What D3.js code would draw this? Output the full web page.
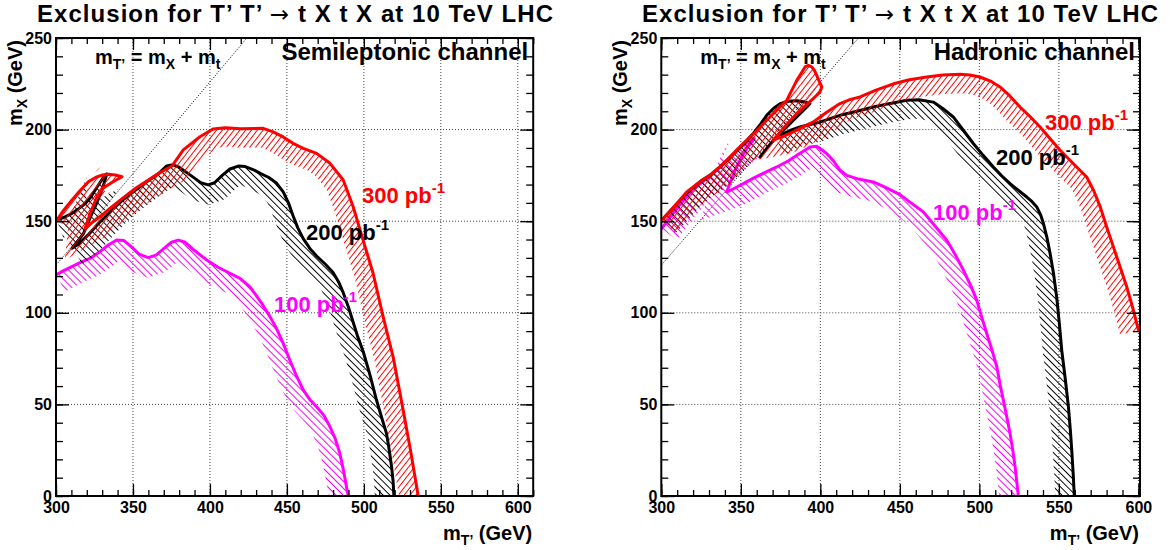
<!DOCTYPE html>
<html><head><meta charset="utf-8">
<script src="https://cdn.jsdelivr.net/npm/d3@7"></script>
<style>
body{margin:0;background:#fff;}
svg{display:block;font-family:"Liberation Sans",Arial,Helvetica,sans-serif;font-weight:bold;}
</style></head><body>
<svg id="chart" width="1171" height="550"></svg>
<script>
// ---- axis ticks and labels ----
const xTicks = [300, 350, 400, 450, 500, 550, 600];
const yTicks = [0, 50, 100, 150, 200, 250];
const titleParts = ["Exclusion for T\u2019 T\u2019 ", "\u2192", " t X t X at 10 TeV LHC"];
const channelNames = ["Semileptonic channel", "Hadronic channel"];
const lumiNames = ["300 pb", "200 pb", "100 pb"];
const topMass = 174; // kinematic limit m_T' = m_X + m_t

// ---- exclusion contours, [m_T', m_X] in GeV ----
// Semileptonic, 300 pb^-1
const semi300 = [[
  [300.5,150.5],[305,156],[310.4,161.6],[316,167],[321.2,171.6],[326,174],[329.9,175.2],[334,175.6],[338.5,175.2],[342.9,174.3],
  [336,171],[330.5,168],[326.5,163],[324,158],[322.3,154.3],[320.5,150],[319,146],
  [323,149],[329,152.8],[336.4,157.9],[344,163],[351.5,167.9],[359,172],[366.7,176.1],[375.3,180.1],[382.7,188.9],[393.5,196.1],
  [402,200.3],[410,201],[420,200.5],[434.6,200.7],[441,198.8],[447.6,196],[454,192.5],[460.6,189.8],[469.3,187],[478,181.6],
  [486.6,172.5],[493,158],[499.5,139.7],[506,121.6],[512.5,97.9],[519,76],[525.5,47],[530.5,24],[535.3,0]
]];
// Semileptonic, 200 pb^-1
const semi200 = [[
  [300.6,150.7],[305,152],[310.4,154.3],[315,157],[319,159.6],[322.5,163],[325.5,167],[328.5,171],[331,174.3],[333,175.8],
  [331.5,171.5],[329.9,167],[327,161],[323.4,154.3],[320.5,148.5],[317.9,143.3],[314,139],[310.4,135.2],
  [314.7,137.5],[321.2,142.8],[328,149],[336.4,156.2],[344,162],[351.5,166.8],[359,171.5],[366.7,176],[371.9,180.2],[376,180.8],
  [380,179.5],[385,176.5],[390,173.5],[394,171],[398.9,169.8],[403,171],[408,175],[413,178.5],[418.4,180.1],[423,179.8],
  [428,178.2],[433,176],[438,174],[443,171],[447.6,166],[451,160],[454,153],[457,146.5],[460.6,140.5],[465,135],[469.3,131],
  [475,126.5],[480,122],[483.5,117],[486.6,111],[490,103],[493,95],[496,87],[499.5,79],[504,66],[508.2,52.4],[511.5,43],
  [514.7,34.2],[516.5,25],[518,16],[519,8],[519.5,0]
]];
// Semileptonic, 100 pb^-1
const semi100 = [[
  [300,120.6],[305,123],[311,125.5],[316,127.5],[322,129.7],[328,133],[334,137],[339.4,139.7],[344,139.5],[349,136],[354,132],
  [359.9,130.1],[365,131.5],[370,135],[375,138.5],[379.4,139.7],[384,138.5],[390,134],[397.9,128.8],[405,125],[412,122],
  [419.5,118.8],[426,114.2],[433,106],[439,97.9],[443.5,91],[447.6,83.3],[452,74],[456,66],[460.6,57.9],[465,52.5],[469.3,48.7],
  [474,44],[478,37.8],[481.5,31],[484.4,23.3],[487,13],[489.8,0]
]];
// Hadronic, 300 pb^-1
const had300 = [[
  [300.2,150.5],[305,155],[311.7,161.6],[316,166],[320.1,168.7],[325,172],[330.6,175.1],[336,179],[341.1,183.2],[347,188.5],
  [353.7,194.2],[360,199.5],[366.3,205.1],[372.5,210.5],[378.9,216],[385.2,226.9],[390.4,234.2],[392.5,235],[394.6,234.2],
  [396.5,232],[397.7,229.6],[399.5,226],[400.9,223.3],[399.7,220.4],[395,216.5],[390,212.5],[385,208.5],[380,204],[375,199],
  [370.4,194.2],[377,196.5],[383,198.8],[389,201.5],[395.6,204.2],[404,209.5],[412.4,214.2],[419,216.5],[425,217.8],[435,221.5],
  [446,225],[456,227.2],[466.9,228.7],[477,229.8],[487.9,230.2],[494,229.8],[500.4,228.7],[507,226.5],[513,223.3],[519,218.5],
  [525.6,212.3],[532,207],[538.2,201.4],[544.5,195],[550.8,188.7],[559,181.5],[567.5,174.1],[572,166.5],[576,157.8],[580,147],
  [584.3,135.9],[588.5,125],[592.7,114.1],[596.5,102.5],[600,90.5]
]];
// Hadronic, 200 pb^-1 (two pieces)
const had200 = [[
  [300.2,150.5],[305,155],[311.7,161.3],[316,165.5],[320.1,168.5],[325,172],[330.6,175],[336,179],[341.1,183],[347,188.2],
  [353.7,194],[358,198],[362,202.5],[366.3,207.8],[370.5,211.5],[374.7,214.2],[380,215.5],[385.2,215.7],[389.5,215.2],
  [393.5,214.2],[389.3,210.5],[384,206],[378.9,201.4],[375,198],[371.5,195.1],[367,190.5],[362,185]
],[
  [371.5,195.1],[374.7,196.9],[381,199.5],[387.2,201.4],[393.5,202.8],[399.8,204.1],[406,206],[412.4,207.8],[423,210],
  [433.3,212.3],[444,214.3],[454.3,216],[462,216.3],[471,215],[477,211.5],[483.6,206.9],[490,199.5],[496.2,192.4],[502.5,185.8],
  [508.8,179.6],[514,174.8],[519.3,170.5],[525,166.5],[529.8,163.2],[533,160.8],[536.1,157.8],[538.5,153.5],[540.3,148.7],
  [542.5,141],[544.5,132.3],[546.7,121],[548.7,108],[550.3,94],[551.8,79.5],[554,64],[556,48.6],[557.2,36],[558.1,24.9],
  [559,12],[559.7,0]
]];
// Hadronic, 100 pb^-1
const had100 = [[
  [300.2,146],[305,151.5],[311.7,159],[320.1,167.5],[330.6,174.5],[341.1,183],[349,189.5],[355.8,194.5],[358.5,195],
  [354,190],[350.5,185],[347.4,179.6],[344,172.5],[341.1,165.9],
  [346,168],[351.6,170.5],[358,173.5],[365,176.5],[372.6,179.6],[380,183],[387,187],[393.5,190.5],[397.7,190.9],[401,189],
  [404,186.9],[408.2,183],[412.4,177.8],[416.6,175],[424,173],[433.3,171.4],[441,168.5],[450.1,164.5],[457,160],[464.8,155],
  [472,147.5],[479.5,139.6],[485,131.5],[490,123.2],[494.5,115],[498.4,106.8],[501.5,97.5],[504.7,88.6],[508,79.5],[511,70.4],
  [513,61],[515.1,52.2],[517.3,43],[519.3,34.1],[521,25],[522.5,15.8],[523.5,8],[524.5,0]
]];

const RED = "#ff0000", BLACK = "#000000", MAGENTA = "#ff00ff";

const panels = [
  { x0: 56,    x1: 533.2, xMax: 610, channel: channelNames[0],
    series: [ {data: semi100, color: MAGENTA, hatch: "hM"}, {data: semi200, color: BLACK, hatch: "hK"}, {data: semi300, color: RED, hatch: "hR"} ],
    labels: [ {text: lumiNames[0], color: RED, x: 362, y: 203}, {text: lumiNames[1], color: BLACK, x: 306, y: 240}, {text: lumiNames[2], color: MAGENTA, x: 274, y: 312} ] },
  { x0: 661.3, x1: 1140,  xMax: 601, channel: channelNames[1],
    series: [ {data: had100, color: MAGENTA, hatch: "hM"}, {data: had200, color: BLACK, hatch: "hK"}, {data: had300, color: RED, hatch: "hR"} ],
    labels: [ {text: lumiNames[0], color: RED, x: 1045, y: 130}, {text: lumiNames[1], color: BLACK, x: 996, y: 165}, {text: lumiNames[2], color: MAGENTA, x: 933, y: 220} ] }
];

const svg = d3.select("#chart");
const defs = svg.append("defs");

function hatchPattern(id, color, angle, gap) {
  const p = defs.append("pattern").attr("id", id)
    .attr("patternUnits", "userSpaceOnUse")
    .attr("width", gap).attr("height", gap * 4)
    .attr("patternTransform", `rotate(${angle})`);
  p.append("line").attr("x1", gap / 2).attr("x2", gap / 2).attr("y1", 0).attr("y2", gap * 4)
    .attr("stroke", color).attr("stroke-width", 1);
}
hatchPattern("hR", RED, 38, 4.6);
hatchPattern("hK", BLACK, -45, 4.8);
hatchPattern("hM", MAGENTA, -45, 5.0);

// Band of width w laid along the right-hand side of the polyline
function bandPath(pts, w) {
  const n = pts.length, segN = [];
  for (let i = 0; i < n - 1; i++) {
    const dx = pts[i + 1][0] - pts[i][0], dy = pts[i + 1][1] - pts[i][1];
    const L = Math.hypot(dx, dy) || 1;
    segN.push([-dy / L, dx / L]);
  }
  const off = pts.map((p, i) => {
    const a = segN[Math.max(0, i - 1)], b = segN[Math.min(n - 2, i)];
    let mx = a[0] + b[0], my = a[1] + b[1];
    let L = Math.hypot(mx, my);
    if (L < 0.4) { mx = b[0]; my = b[1]; L = 1; }
    mx /= L; my /= L;
    const c = mx * b[0] + my * b[1];
    const s = Math.min(1 / Math.max(c, 0.5), 2);
    return [p[0] + mx * w * s, p[1] + my * w * s];
  });
  return "M" + pts.map(p => p.join(",")).join("L") + "L" + off.reverse().map(p => p.join(",")).join("L") + "Z";
}

const Y0 = 496, Y1 = 38;

panels.forEach((P, pi) => {
  const x = d3.scaleLinear().domain([300, P.xMax]).range([P.x0, P.x1]);
  const y = d3.scaleLinear().domain([0, 250]).range([Y0, Y1]);
  const g = svg.append("g");
  const clipId = "clip" + pi;
  defs.append("clipPath").attr("id", clipId).append("rect")
    .attr("x", P.x0).attr("y", Y1).attr("width", P.x1 - P.x0).attr("height", Y0 - Y1);

  // dotted grid at the major ticks
  const grid = g.append("g").attr("stroke", "#444").attr("stroke-width", 1).attr("stroke-dasharray", "1,2");
  xTicks.filter(v => v > 300).forEach(v => grid.append("line")
    .attr("x1", x(v)).attr("x2", x(v)).attr("y1", Y0).attr("y2", Y1));
  yTicks.filter(v => v > 0 && v < 250).forEach(v => grid.append("line")
    .attr("x1", P.x0).attr("x2", P.x1).attr("y1", y(v)).attr("y2", y(v)));

  // kinematic limit
  g.append("line").attr("clip-path", `url(#${clipId})`)
    .attr("x1", x(300)).attr("y1", y(300 - topMass))
    .attr("x2", x(250 + topMass)).attr("y2", y(250))
    .attr("stroke", "#000").attr("stroke-width", 1).attr("stroke-dasharray", "1,1.6");

  // contours: hatched band then the line
  const cg = g.append("g").attr("clip-path", `url(#${clipId})`);
  const line = d3.line().x(d => x(d[0])).y(d => y(d[1])).curve(d3.curveLinear);
  P.series.forEach(s => {
    s.data.forEach(seg => {
      const px = seg.map(d => [x(d[0]), y(d[1])]);
      cg.append("path").attr("d", bandPath(px, 19)).attr("fill", `url(#${s.hatch})`).attr("fill-rule", "nonzero");
    });
    s.data.forEach(seg => {
      cg.append("path").attr("d", line(seg)).attr("fill", "none")
        .attr("stroke", s.color).attr("stroke-width", 3).attr("stroke-linejoin", "round").attr("stroke-linecap", "round");
    });
  });

  // axes: major and minor ticks on all four sides
  const minorX = d3.range(300, P.xMax + 0.1, 10);
  const minorY = d3.range(0, 251, 10);
  function styleAxis(sel) { sel.select(".domain").remove(); sel.selectAll("line").attr("stroke", "#000").attr("stroke-width", 1.3); }
  g.append("g").attr("transform", `translate(0,${Y0})`)
    .call(d3.axisBottom(x).tickValues(minorX).tickSize(-6).tickFormat("")).call(styleAxis);
  g.append("g").attr("transform", `translate(0,${Y1})`)
    .call(d3.axisTop(x).tickValues(minorX).tickSize(-6).tickFormat("")).call(styleAxis);
  g.append("g").attr("transform", `translate(${P.x0},0)`)
    .call(d3.axisLeft(y).tickValues(minorY).tickSize(-7).tickFormat("")).call(styleAxis);
  g.append("g").attr("transform", `translate(${P.x1},0)`)
    .call(d3.axisRight(y).tickValues(minorY).tickSize(-7).tickFormat("")).call(styleAxis);
  const bx = g.append("g").attr("transform", `translate(0,${Y0})`)
    .call(d3.axisBottom(x).tickValues(xTicks).tickSize(-12).tickPadding(6).tickFormat(d3.format("d"))).call(styleAxis);
  g.append("g").attr("transform", `translate(0,${Y1})`)
    .call(d3.axisTop(x).tickValues(xTicks).tickSize(-12).tickFormat("")).call(styleAxis);
  const ly = g.append("g").attr("transform", `translate(${P.x0},0)`)
    .call(d3.axisLeft(y).tickValues(yTicks).tickSize(-13).tickPadding(4).tickFormat(d3.format("d"))).call(styleAxis);
  g.append("g").attr("transform", `translate(${P.x1},0)`)
    .call(d3.axisRight(y).tickValues(yTicks).tickSize(-13).tickFormat("")).call(styleAxis);
  [bx, ly].forEach(a => a.selectAll("text").attr("font-family", "Liberation Sans, Arial, sans-serif")
    .attr("font-weight", "bold").attr("font-size", 16).attr("fill", "#000"));

  // frame
  g.append("rect").attr("x", P.x0).attr("y", Y1).attr("width", P.x1 - P.x0).attr("height", Y0 - Y1)
    .attr("fill", "none").attr("stroke", "#000").attr("stroke-width", 2);

  // title
  const cx = pi === 0 ? 295 : 900;
  const tt = svg.append("text").attr("x", cx).attr("y", 22).attr("text-anchor", "middle").attr("font-size", 24)
    .attr("textLength", 516).attr("lengthAdjust", "spacing");
  tt.append("tspan").text(titleParts[0]);
  tt.append("tspan").attr("font-family", "DejaVu Sans").attr("font-weight", "normal").attr("font-size", 23).text(titleParts[1]);
  tt.append("tspan").text(titleParts[2]);

  // channel name
  svg.append("text").attr("x", P.x1 - 5).attr("y", 60).attr("text-anchor", "end")
    .attr("font-size", 24).text(P.channel);

  // kinematic-limit caption
  const kt = svg.append("text").attr("x", P.x0 + 39).attr("y", 64).attr("font-size", 20);
  kt.append("tspan").text("m");
  kt.append("tspan").attr("font-size", 14).attr("dy", 5).text("T\u2019");
  kt.append("tspan").attr("dy", -5).text(" = m");
  kt.append("tspan").attr("font-size", 14).attr("dy", 5).text("X");
  kt.append("tspan").attr("dy", -5).text(" + m");
  kt.append("tspan").attr("font-size", 14).attr("dy", 5).text("t");

  // luminosity labels
  P.labels.forEach(l => {
    const t = svg.append("text").attr("x", l.x).attr("y", l.y).attr("font-size", 22).attr("fill", l.color);
    t.append("tspan").text(l.text);
    t.append("tspan").attr("font-size", 15).attr("dy", -10).text("-1");
  });

  // axis titles
  const xt = svg.append("text").attr("x", P.x1 - 1).attr("y", 540).attr("text-anchor", "end").attr("font-size", 20);
  xt.append("tspan").text("m");
  xt.append("tspan").attr("font-size", 14).attr("dy", 5).text("T\u2019");
  xt.append("tspan").attr("dy", -5).text(" (GeV)");
  const yt = svg.append("text").attr("transform", `translate(${P.x0 - 34},40) rotate(-90)`)
    .attr("text-anchor", "end").attr("font-size", 20);
  yt.append("tspan").text("m");
  yt.append("tspan").attr("font-size", 14).attr("dy", 5).text("X");
  yt.append("tspan").attr("dy", -5).text(" (GeV)");
});
</script>
</body></html>
